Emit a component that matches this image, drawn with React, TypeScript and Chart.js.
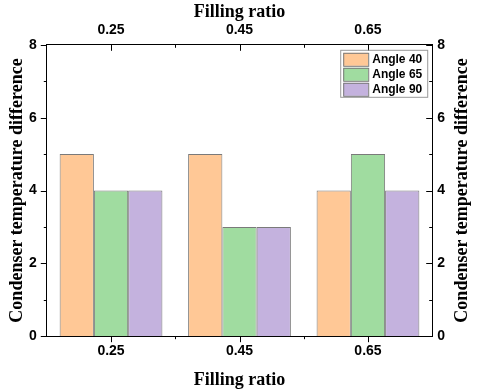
import React, { useEffect, useRef } from "react";
import { Chart, registerables } from "chart.js";

Chart.register(...registerables);

const categories = ["0.25", "0.45", "0.65"];
const angle40 = [5, 5, 4];
const angle65 = [4, 3, 5];
const angle90 = [4, 3, 4];
const seriesLabels = ["Angle 40", "Angle 65", "Angle 90"];
const yTicks = [0, 2, 4, 6, 8];
const yMinorTicks = [1, 3, 5, 7];
const xTitle = "Filling ratio";
const yTitle = "Condenser temperature difference";

const colors = ["#FFC896", "#A0DCA0", "#C4B2DE"];
const borderColor = "#7a7a7a";
const tickFont = { family: "'Liberation Sans', Arial, sans-serif", size: 14, weight: "bold" as const };
const titleFontX = "bold 18px 'Liberation Serif', 'Times New Roman', serif";
const titleFontY = "bold 18px 'Liberation Serif', 'Times New Roman', serif";

const tickPlugin = {
  id: "tickMarks",
  afterDraw(chart: any) {
    const ctx = chart.ctx;
    const { left, right, top, bottom } = chart.chartArea;
    const x = chart.scales.x;
    const y = chart.scales.y;
    ctx.save();
    ctx.strokeStyle = "#000";
    ctx.lineWidth = 1;
    const major = 6;
    const minor = 3;
    yTicks.forEach((v) => {
      const py = Math.round(y.getPixelForValue(v)) + 0.5;
      ctx.beginPath();
      ctx.moveTo(left - major, py);
      ctx.lineTo(left, py);
      ctx.moveTo(right, py);
      ctx.lineTo(right - major, py);
      ctx.stroke();
    });
    yMinorTicks.forEach((v) => {
      const py = Math.round(y.getPixelForValue(v)) + 0.5;
      ctx.beginPath();
      ctx.moveTo(left - minor, py);
      ctx.lineTo(left, py);
      ctx.moveTo(right, py);
      ctx.lineTo(right - minor, py);
      ctx.stroke();
    });
    categories.forEach((_, i) => {
      const px = Math.round(x.getPixelForValue(i)) + 0.5;
      ctx.beginPath();
      ctx.moveTo(px, bottom);
      ctx.lineTo(px, bottom + major);
      ctx.moveTo(px, top);
      ctx.lineTo(px, top + major);
      ctx.stroke();
      if (i < categories.length - 1) {
        const mx = Math.round((x.getPixelForValue(i) + x.getPixelForValue(i + 1)) / 2) + 0.5;
        ctx.beginPath();
        ctx.moveTo(mx, bottom);
        ctx.lineTo(mx, bottom + minor);
        ctx.moveTo(mx, top);
        ctx.lineTo(mx, top + minor);
        ctx.stroke();
      }
    });
    // titles
    ctx.fillStyle = "#000";
    ctx.textAlign = "center";
    ctx.textBaseline = "middle";
    ctx.font = titleFontX;
    const cx = (left + right) / 2;
    ctx.fillText(xTitle, cx, top - 32);
    ctx.fillText(xTitle, cx, bottom + 44);
    ctx.font = titleFontY;
    const cy = (top + bottom) / 2;
    [left - 29, right + 30].forEach((tx) => {
      ctx.save();
      ctx.translate(tx, cy);
      ctx.rotate(-Math.PI / 2);
      ctx.fillText(yTitle, 0, 0);
      ctx.restore();
    });
    // legend
    const boxRight = right - 5;
    const boxTop = top + 5;
    const boxW = 87;
    const boxH = 47;
    const bx = boxRight - boxW;
    ctx.strokeStyle = "#999";
    ctx.strokeRect(bx + 0.5, boxTop + 0.5, boxW, boxH);
    ctx.font = "bold 12px 'Liberation Sans', Arial, sans-serif";
    ctx.textBaseline = "middle";
    ctx.textAlign = "left";
    chart.data.datasets.forEach((ds: any, i: number) => {
      const sy = boxTop + 3 + i * 15;
      ctx.fillStyle = ds.backgroundColor;
      ctx.fillRect(bx + 3, sy, 25, 13);
      ctx.strokeStyle = borderColor;
      ctx.strokeRect(bx + 3.5, sy + 0.5, 25, 13);
      ctx.fillStyle = "#000";
      ctx.fillText(ds.label, bx + 32, sy + 7);
    });
    ctx.restore();
  },
};

export default function App() {
  const ref = useRef<HTMLCanvasElement>(null);
  useEffect(() => {
    document.body.style.margin = "0";
    const ctx = ref.current!.getContext("2d")!;
    const series = [angle40, angle65, angle90];
    const chart = new Chart(ctx, {
      type: "bar",
      data: {
        labels: categories,
        datasets: series.map((d, i) => ({
          label: seriesLabels[i],
          data: d,
          backgroundColor: colors[i],
          borderColor: borderColor,
          borderWidth: 1,
          categoryPercentage: 0.8,
          barPercentage: 1.0,
        })),
      },
      options: {
        animation: false,
        responsive: false,
        maintainAspectRatio: false,
        layout: { padding: { left: 19, right: 30, top: 16, bottom: 25 } },
        plugins: { legend: { display: false }, tooltip: { enabled: false } },
        scales: {
          x: {
            position: "bottom",
            grid: { display: false, drawTicks: false },
            border: { display: true, color: "#000", width: 1 },
            ticks: { font: tickFont, color: "#000", padding: 7 },
          },
          x2: {
            type: "category",
            position: "top",
            labels: categories,
            offset: true,
            grid: { display: false, drawTicks: false },
            border: { display: true, color: "#000", width: 1 },
            ticks: { font: tickFont, color: "#000", padding: 6 },
          },
          y: {
            position: "left",
            min: 0,
            max: 8,
            ticks: { stepSize: 2, font: tickFont, color: "#000", padding: 10 },
            grid: { display: false, drawTicks: false },
            border: { display: true, color: "#000", width: 1 },
          },
          y2: {
            type: "linear",
            position: "right",
            min: 0,
            max: 8,
            ticks: { stepSize: 2, font: tickFont, color: "#000", padding: 5 },
            grid: { display: false, drawTicks: false },
            border: { display: true, color: "#000", width: 1 },
          },
        },
      },
      plugins: [tickPlugin],
    });
    return () => chart.destroy();
  }, []);
  return (
    <div style={{ width: 480, height: 392, background: "#fff" }}>
      <canvas ref={ref} width={480} height={392} style={{ display: "block" }} />
    </div>
  );
}
